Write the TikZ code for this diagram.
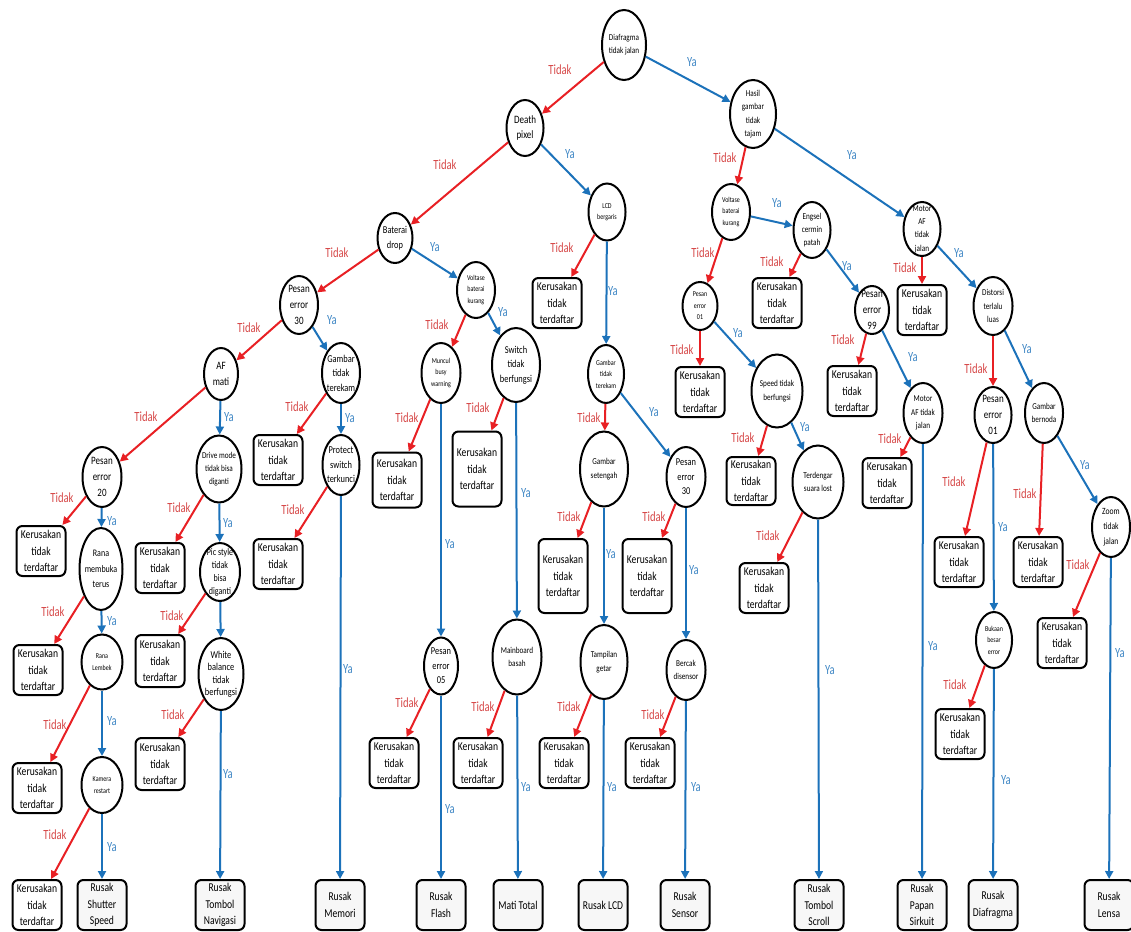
\documentclass[tikz,border=0pt]{standalone}
\usepackage{fontspec}
\setmainfont{Carlito}
\newfontfamily\narrowfont[FakeStretch=0.8]{Carlito}
\newfontfamily\labelfont[FakeStretch=0.76]{Carlito}
\usetikzlibrary{shapes.geometric,arrows.meta}
\definecolor{noRed}{RGB}{232,32,36}
\definecolor{noText}{RGB}{214,72,72}
\definecolor{yesBlue}{RGB}{28,114,186}
\definecolor{yesText}{RGB}{62,134,196}
% edge with its answer label: from, to, label x, label y
\newcommand\noArrow[4]{\draw[redge] (#1) -- (#2); \node[rlab] at (#3,#4) {Tidak};}
\newcommand\yesArrow[4]{\draw[bedge] (#1) -- (#2); \node[blab] at (#3,#4) {Ya};}
\begin{document}
\begin{tikzpicture}[x=1pt,y=-1pt,
  dec/.style 2 args={ellipse, draw=black, line width=2pt, minimum width=#1pt,
    minimum height=#2pt, inner sep=-20pt, align=center, fill=white},
  sa/.style={font=\narrowfont\fontsize{7.5}{11.5}\selectfont},
  sb/.style={font=\narrowfont\fontsize{9}{13.3}\selectfont},
  sc/.style={font=\narrowfont\fontsize{10.5}{14.5}\selectfont},
  sd/.style={font=\narrowfont\fontsize{11.25}{16}\selectfont},
  kbox/.style={draw=black, line width=2pt, rounded corners=6pt, minimum width=49pt,
    minimum height=50pt, inner sep=0pt, align=center, fill=white,
    font=\narrowfont\fontsize{12}{16.5}\selectfont},
  rbox/.style={kbox, fill=black!3},
  redge/.style={draw=noRed, line width=2pt, -{Triangle[length=8pt,width=8pt]}},
  bedge/.style={draw=yesBlue, line width=2pt, -{Triangle[length=8pt,width=8pt]}},
  rlab/.style={text=noText, font=\labelfont\fontsize{14}{14}\selectfont},
  blab/.style={text=yesText, font=\labelfont\fontsize{14}{14}\selectfont},
]
\useasboundingbox (0,0) rectangle (1131,931);

% ---------- decisions ----------
\node[dec={44}{70},sb] (root) at (624,45) {Diafragma\\tidak jalan};
\node[dec={37}{56},sd] (death) at (525,128) {Death\\pixel};
\node[dec={46}{68},sb] (hasil) at (753,114) {Hasil\\gambar\\tidak\\tajam};
\node[dec={37}{57},sa] (lcd) at (607,212) {LCD\\bergaris};
\node[dec={35}{50},sc] (bat) at (395,238) {Baterai\\drop};
\node[dec={38}{56},sa] (voltL) at (476,290) {Voltase\\baterai\\kurang};
\node[dec={38}{56},sa] (voltR) at (731,212) {Voltase\\baterai\\kurang};
\node[dec={37}{56},sb] (engsel) at (812,230) {Engsel\\cermin\\patah};
\node[dec={37}{54},sb] (motorA) at (922,229) {Motor\\AF\\tidak\\jalan};
\node[dec={38}{58},sd] (pe30L) at (299,305) {Pesan\\error\\30};
\node[dec={34}{52},sd] (afmati) at (221,374) {AF\\mati};
\node[dec={38}{60},sc] (gttL) at (341,373) {Gambar\\tidak\\terekam};
\node[dec={39}{60},sd] (pe20) at (102,477) {Pesan\\error\\20};
\node[dec={45}{67},sb] (drive) at (219,469) {Drive mode\\tidak bisa\\diganti};
\node[dec={37}{60},sc] (protect) at (341,465) {Protect\\switch\\terkunci};
\node[dec={43}{82},sc,font=\narrowfont\fontsize{10}{15.5}\selectfont] (rana) at (101,569) {Rana\\membuka\\terus};
\node[dec={40}{58},sc,font=\narrowfont\fontsize{10}{13}\selectfont] (pic) at (220,572) {Pic style\\tidak\\bisa\\diganti};
\node[dec={39}{60},sa] (muncul) at (441,373) {Muncul\\busy\\warning};
\node[dec={48}{74},sc] (switch) at (516,365) {Switch\\tidak\\berfungsi};
\node[dec={36}{58},sa] (gttM) at (606,374) {Gambar\\tidak\\terekam};
\node[dec={35}{48},sa] (pe01) at (700,306) {Pesan\\error\\01};
\node[dec={48}{75},sb] (setengah) at (604,469) {Gambar\\setengah};
\node[dec={39}{60},sc] (pe30M) at (686,477) {Pesan\\error\\30};
\node[dec={51}{73},sb] (speed) at (777,391) {Speed tidak\\berfungsi};
\node[dec={34}{48},sd] (pe99) at (872,310) {Pesan\\error\\99};
\node[dec={39}{58},sb] (distorsi) at (993,306) {Distorsi\\terlalu\\luas};
\node[dec={39}{60},sb] (motorB) at (923,413) {Motor\\AF tidak\\jalan};
\node[dec={37}{56},sd] (pe01b) at (993,415) {Pesan\\error\\01};
\node[dec={38}{60},sb] (bernoda) at (1044,413) {Gambar\\bernoda};
\node[dec={51}{73},sb] (terdengar) at (818,482) {Terdengar\\suara lost};
\node[dec={38}{60},sb,font=\narrowfont\fontsize{9.5}{15}\selectfont] (zoom) at (1111,527) {Zoom\\tidak\\jalan};
\node[dec={36}{56},sa] (bukaan) at (994,640) {Bukaan\\besar\\error};
\node[dec={41}{55},sa] (lembek) at (102,662) {Rana\\Lembek};
\node[dec={45}{72},sc,font=\narrowfont\fontsize{10.5}{12.5}\selectfont] (white) at (221,674) {White\\balance\\tidak\\berfungsi};
\node[dec={41}{56},sa] (kamera) at (102,785) {Kamera\\restart};
\node[dec={34}{57},sc] (pe05) at (441,666) {Pesan\\error\\05};
\node[dec={49}{75},sb] (mainboard) at (517,657) {Mainboard\\basah};
\node[dec={47}{74},sb] (tampilan) at (604,662) {Tampilan\\getar};
\node[dec={39}{60},sb] (bercak) at (686,670) {Bercak\\disensor};

% ---------- unregistered damage ----------
\node[kbox] (k1) at (278,460) {Kerusakan\\tidak\\terdaftar};
\node[kbox] (k2) at (41,551) {Kerusakan\\tidak\\terdaftar};
\node[kbox] (k3) at (160,568) {Kerusakan\\tidak\\terdaftar};
\node[kbox] (k4) at (278,564) {Kerusakan\\tidak\\terdaftar};
\node[kbox,minimum height=55pt] (k5) at (397,480) {Kerusakan\\tidak\\terdaftar};
\node[kbox,minimum height=75pt] (k6) at (477,469) {Kerusakan\\tidak\\terdaftar};
\node[kbox] (k7) at (557,303) {Kerusakan\\tidak\\terdaftar};
\node[kbox] (k8) at (700,392) {Kerusakan\\tidak\\terdaftar};
\node[kbox,minimum height=74pt] (k9) at (563,576) {Kerusakan\\tidak\\terdaftar};
\node[kbox,minimum height=74pt] (k10) at (647,576) {Kerusakan\\tidak\\terdaftar};
\node[kbox] (k11) at (777,303) {Kerusakan\\tidak\\terdaftar};
\node[kbox] (k12) at (922,310) {Kerusakan\\tidak\\terdaftar};
\node[kbox] (k13) at (852,391) {Kerusakan\\tidak\\terdaftar};
\node[kbox,minimum height=48pt] (k14) at (751,481) {Kerusakan\\tidak\\terdaftar};
\node[kbox] (k15) at (887,483) {Kerusakan\\tidak\\terdaftar};
\node[kbox] (k16) at (764,588) {Kerusakan\\tidak\\terdaftar};
\node[kbox] (k17) at (959,562) {Kerusakan\\tidak\\terdaftar};
\node[kbox] (k18) at (1038,562) {Kerusakan\\tidak\\terdaftar};
\node[kbox] (k19) at (1062,643) {Kerusakan\\tidak\\terdaftar};
\node[kbox] (k20) at (960,734) {Kerusakan\\tidak\\terdaftar};
\node[kbox] (k21) at (38,670) {Kerusakan\\tidak\\terdaftar};
\node[kbox,minimum height=52pt] (k22) at (160,661) {Kerusakan\\tidak\\terdaftar};
\node[kbox] (k23) at (37,788) {Kerusakan\\tidak\\terdaftar};
\node[kbox,minimum height=52pt] (k24) at (160,764) {Kerusakan\\tidak\\terdaftar};
\node[kbox] (k25) at (394,763) {Kerusakan\\tidak\\terdaftar};
\node[kbox] (k26) at (478,763) {Kerusakan\\tidak\\terdaftar};
\node[kbox] (k27) at (564,763) {Kerusakan\\tidak\\terdaftar};
\node[kbox] (k28) at (650,763) {Kerusakan\\tidak\\terdaftar};
\node[kbox] (k29) at (37,905) {Kerusakan\\tidak\\terdaftar};

% ---------- diagnoses ----------
\node[rbox] (shutter) at (102,905) {Rusak\\Shutter\\Speed};
\node[rbox] (navigasi) at (220,905) {Rusak\\Tombol\\Navigasi};
\node[rbox] (memori) at (340,905) {Rusak\\Memori};
\node[rbox] (flash) at (441,905) {Rusak\\Flash};
\node[rbox] (matitotal) at (518,905) {Mati Total};
\node[rbox] (rlcd) at (603,905) {Rusak LCD};
\node[rbox] (sensor) at (685,905) {Rusak\\Sensor};
\node[rbox] (scroll) at (819,905) {Rusak\\Tombol\\Scroll};
\node[rbox] (papan) at (922,905) {Rusak\\Papan\\Sirkuit};
\node[rbox] (rdiaf) at (993,905) {Rusak\\Diafragma};
\node[rbox] (lensa) at (1109,905) {Rusak\\Lensa};

% ---------- connectors ----------
\noArrow{root}{death}{560}{70}
\yesArrow{root}{hasil}{692}{62}
\noArrow{death}{bat}{445}{165}
\yesArrow{death}{lcd}{570}{154}
\noArrow{hasil}{voltR}{725}{158}
\yesArrow{hasil}{motorA}{852}{155}
\noArrow{bat}{pe30L}{337}{253}
\yesArrow{bat}{voltL}{435}{247}
\noArrow{lcd}{k7}{562}{248}
\yesArrow{lcd}{gttM}{613}{291}
\noArrow{voltR}{pe01}{703}{253}
\yesArrow{voltR}{engsel}{777}{203}
\noArrow{engsel}{k11}{772}{262}
\yesArrow{engsel}{pe99}{847}{266}
\noArrow{motorA}{k12}{905}{268}
\yesArrow{motorA}{distorsi}{959}{253}
\noArrow{pe30L}{afmati}{249}{328}
\yesArrow{pe30L}{gttL}{332}{320}
\noArrow{voltL}{muncul}{437}{325}
\yesArrow{voltL}{switch}{503}{312}
\noArrow{pe01}{k8}{682}{350}
\yesArrow{pe01}{speed}{738}{333}
\noArrow{pe99}{k13}{843}{340}
\yesArrow{pe99}{motorB}{913}{357}
\noArrow{distorsi}{pe01b}{976}{369}
\yesArrow{distorsi}{bernoda}{1027}{349}
\noArrow{afmati}{pe20}{146}{417}
\yesArrow{afmati}{drive}{229}{417}
\noArrow{gttL}{k1}{297}{407}
\yesArrow{gttL}{protect}{350}{418}
\noArrow{muncul}{k5}{407}{418}
\yesArrow{muncul}{pe05}{450}{544}
\noArrow{switch}{k6}{478}{408}
\yesArrow{switch}{mainboard}{526}{493}
\noArrow{gttM}{setengah}{589}{418}
\yesArrow{gttM}{pe30M}{654}{412}
\noArrow{speed}{k14}{743}{438}
\yesArrow{speed}{terdengar}{805}{427}
\noArrow{motorB}{k15}{890}{439}
\yesArrow{motorB}{papan}{933}{646}
\noArrow{pe01b}{k17}{954}{482}
\yesArrow{pe01b}{bukaan}{1003}{527}
\noArrow{bernoda}{k18}{1025}{494}
\yesArrow{bernoda}{zoom}{1085}{465}
\noArrow{pe20}{k2}{62}{498}
\yesArrow{pe20}{rana}{112}{521}
\noArrow{drive}{k3}{179}{508}
\yesArrow{drive}{pic}{228}{523}
\noArrow{protect}{k4}{293}{510}
\yesArrow{protect}{memori}{348}{669}
\noArrow{setengah}{k9}{569}{517}
\yesArrow{setengah}{tampilan}{611}{554}
\noArrow{pe30M}{k10}{654}{517}
\yesArrow{pe30M}{bercak}{694}{570}
\noArrow{terdengar}{k16}{768}{536}
\yesArrow{terdengar}{scroll}{830}{670}
\noArrow{zoom}{k19}{1078}{565}
\yesArrow{zoom}{lensa}{1120}{653}
\noArrow{rana}{k21}{53}{612}
\yesArrow{rana}{lembek}{112}{621}
\noArrow{pic}{k22}{172}{616}
\draw[bedge] (pic) -- (white);
\noArrow{lembek}{k23}{55}{725}
\yesArrow{lembek}{kamera}{112}{721}
\noArrow{white}{k24}{173}{715}
\yesArrow{white}{navigasi}{228}{774}
\noArrow{kamera}{k29}{55}{835}
\yesArrow{kamera}{shutter}{112}{847}
\noArrow{pe05}{k25}{407}{703}
\yesArrow{pe05}{flash}{450}{809}
\noArrow{mainboard}{k26}{483}{707}
\yesArrow{mainboard}{matitotal}{526}{787}
\noArrow{tampilan}{k27}{569}{707}
\yesArrow{tampilan}{rlcd}{612}{787}
\noArrow{bercak}{k28}{653}{715}
\yesArrow{bercak}{sensor}{696}{787}
\noArrow{bukaan}{k20}{955}{685}
\yesArrow{bukaan}{rdiaf}{1006}{780}
\end{tikzpicture}
\end{document}
